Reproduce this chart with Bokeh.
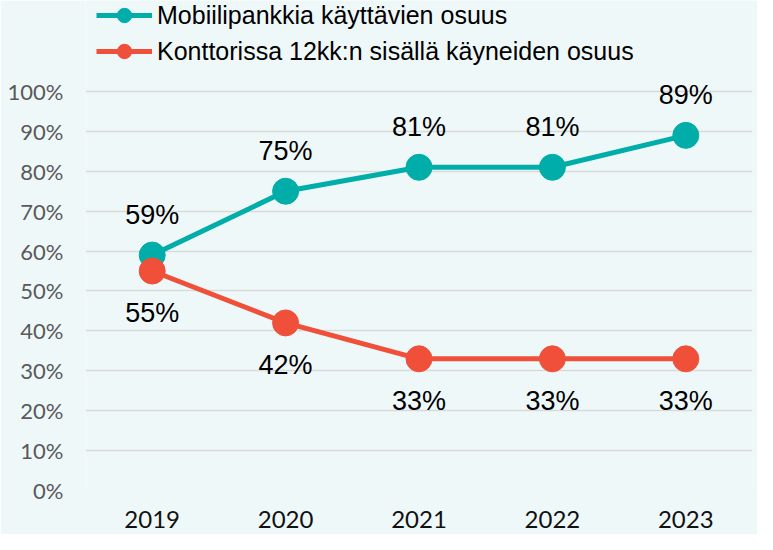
from bokeh.plotting import figure
from bokeh.models import ColumnDataSource, FactorRange, Range1d, Legend, LegendItem, LabelSet, FixedTicker, NumeralTickFormatter
from bokeh.core.properties import value
from bokeh.embed import file_html
from bokeh.resources import INLINE

years = ["2019", "2020", "2021", "2022", "2023"]
mobile = [0.59, 0.75, 0.81, 0.81, 0.89]
branch = [0.55, 0.42, 0.33, 0.33, 0.33]
mobile_name = "Mobiilipankkia käyttävien osuus"
branch_name = "Konttorissa 12kk:n sisällä käyneiden osuus"
y_ticks = [0.0, 0.1, 0.2, 0.3, 0.4, 0.5, 0.6, 0.7, 0.8, 0.9, 1.0]

TEAL = "#00ADA8"
RED = "#F0503A"
BG = "#EFF8F9"
SANS = "Arial, 'Liberation Sans', sans-serif"

p = figure(width=757, height=534, x_range=FactorRange(*years), y_range=Range1d(0, 1.228),
           output_backend="svg", toolbar_location=None,
           min_border_left=85, min_border_right=5, min_border_top=0, min_border_bottom=44)
p.background_fill_color = BG
p.border_fill_color = BG
p.outline_line_color = None

src_m = ColumnDataSource(dict(x=years, y=mobile, t=[f"{round(v*100)}%" for v in mobile]))
src_b = ColumnDataSource(dict(x=years, y=branch, t=[f"{round(v*100)}%" for v in branch]))

lm = p.line("x", "y", source=src_m, line_color=TEAL, line_width=5)
sm = p.scatter("x", "y", source=src_m, size=26, fill_color=TEAL, line_color=TEAL)
lb = p.line("x", "y", source=src_b, line_color=RED, line_width=5)
sb = p.scatter("x", "y", source=src_b, size=26, fill_color=RED, line_color=RED)

lab_m = LabelSet(x="x", y="y", text="t", source=src_m, y_offset=40, text_align="center",
                 text_baseline="middle", text_font=value(SANS), text_font_size="27px",
                 text_color="black")
lab_b = LabelSet(x="x", y="y", text="t", source=src_b, y_offset=-42, text_align="center",
                 text_baseline="middle", text_font=value(SANS), text_font_size="27px",
                 text_color="black")
p.add_layout(lab_m)
p.add_layout(lab_b)

# axes
p.yaxis.ticker = FixedTicker(ticks=y_ticks)
p.yaxis.formatter = NumeralTickFormatter(format="0%")
for ax in (p.xaxis[0], p.yaxis[0]):
    ax.axis_line_color = None
    ax.major_tick_line_color = None
    ax.minor_tick_line_color = None
    ax.major_tick_out = 0
    ax.major_tick_in = 0
    ax.minor_tick_out = 0
p.yaxis.major_label_text_font = "Lato"
p.yaxis.major_label_text_font_size = "22px"
p.yaxis.major_label_text_color = "#595959"
p.yaxis.major_label_standoff = 22
p.xaxis.major_label_text_font = "Lato"
p.xaxis.major_label_text_font_size = "24px"
p.xaxis.major_label_text_color = "#111111"
p.xaxis.major_label_standoff = 20

p.xgrid.grid_line_color = None
p.ygrid.grid_line_color = "#D9D9D9"
p.ygrid.grid_line_width = 1.5
p.ygrid.ticker = FixedTicker(ticks=y_ticks)

legend = Legend(items=[LegendItem(label=mobile_name, renderers=[lm, sm]),
                       LegendItem(label=branch_name, renderers=[lb, sb])],
                location=(11, 421), orientation="vertical",
                glyph_width=56, glyph_height=36, spacing=0, label_standoff=5,
                label_text_font=SANS, label_text_font_size="25px",
                label_text_color="black", padding=0, margin=0,
                border_line_color=None, background_fill_alpha=0)
p.add_layout(legend, "center")

open("out.html", "w").write(file_html(p, INLINE))
